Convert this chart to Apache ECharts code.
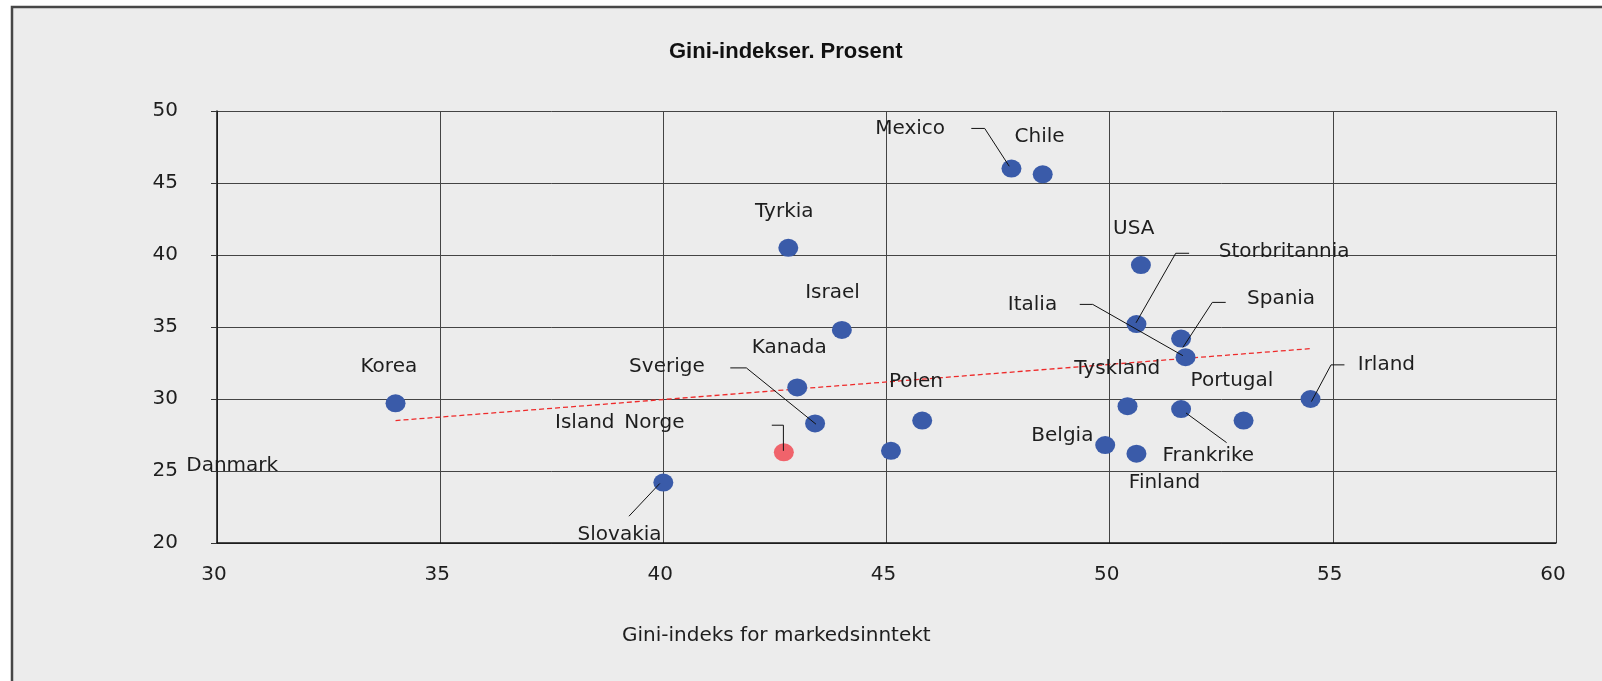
<!DOCTYPE html>
<html lang="no">
<head>
<meta charset="UTF-8" />
<title>Gini-indekser</title>
<script src="https://cdn.jsdelivr.net/npm/echarts@6/dist/echarts.min.js"></script>
<style>
  html, body { margin: 0; padding: 0; background: #fff; }
  #main { width: 1602px; height: 681px; }
</style>
</head>
<body>
<div id="main"></div>
<script>
// Gini for markedsinntekt (x) og disponibel inntekt (y)
const countries = ['Korea', 'Slovakia', 'Tyrkia', 'Kanada', 'Sverige', 'Israel', 'Island', 'Polen',
  'Mexico', 'Chile', 'Belgia', 'Tyskland', 'Storbritannia', 'Finland', 'USA', 'Spania',
  'Frankrike', 'Italia', 'Portugal', 'Irland'];
const marketGini = [34.0, 40.0, 42.8, 43.0, 43.4, 44.0, 45.1, 45.8,
  47.8, 48.5, 49.9, 50.4, 50.6, 50.6, 50.7, 51.6,
  51.6, 51.7, 53.0, 54.5];
const dispGini = [29.7, 24.2, 40.5, 30.8, 28.3, 34.8, 26.4, 28.5,
  46.0, 45.6, 26.8, 29.5, 35.2, 26.2, 39.3, 34.2,
  29.3, 32.9, 28.5, 30.0];

// Norge markert i rødt
const norgeMarket = 42.7;
const norgeDisp = 26.3;

// trendlinje (endepunkter)
const trendX = [34.0, 54.5];
const trendY = [28.5, 33.5];

// etiketter, slik de står i figuren (x, y i aksens enheter)
const labelNames = ['Mexico', 'Chile', 'Tyrkia', 'Israel', 'Kanada', 'Sverige', 'Korea', 'Island', 'Norge',
  'Slovakia', 'Danmark', 'Polen', 'USA', 'Storbritannia', 'Italia', 'Spania', 'Tyskland', 'Portugal',
  'Irland', 'Belgia', 'Frankrike', 'Finland'];
const labelX = [45.53, 48.43, 42.71, 43.79, 42.82, 40.08, 33.85, 38.24, 39.80,
  39.02, 30.34, 45.66, 50.54, 53.91, 48.27, 53.84, 50.17, 52.74,
  56.20, 48.94, 52.21, 51.23];
const labelY = [48.79, 48.22, 43.03, 37.35, 33.58, 32.23, 32.23, 28.32, 28.32,
  20.58, 25.34, 31.17, 41.83, 40.19, 36.57, 36.99, 32.09, 31.24,
  32.37, 27.47, 26.05, 24.20];

// tilknytningslinjer fra etikett til punkt
const leaders = [
  [[46.90, 48.79], [47.20, 48.79], [47.75, 46.16]],
  [[41.50, 32.16], [41.86, 32.16], [43.42, 28.25]],
  [[42.43, 28.18], [42.69, 28.18], [42.69, 26.40]],
  [[39.23, 21.86], [39.92, 24.13]],
  [[51.78, 40.12], [51.48, 40.12], [50.59, 35.29]],
  [[49.33, 36.57], [49.62, 36.57], [51.64, 33.01]],
  [[52.60, 36.71], [52.30, 36.71], [51.64, 33.58]],
  [[55.26, 32.37], [54.96, 32.37], [54.52, 29.82]],
  [[51.71, 29.03], [52.62, 26.97]]
];

const FONT = '"DejaVu Sans", Verdana, sans-serif';
const TXT = '#1e1e1e';

var chart = echarts.init(document.getElementById('main'));

var series = [];

series.push({
  type: 'line',
  data: trendX.map((x, i) => [x, trendY[i]]),
  showSymbol: false,
  lineStyle: { color: '#ee2a2a', width: 1.3, type: [5, 3] },
  z: 3
});

leaders.forEach(function (pts) {
  series.push({
    type: 'line',
    data: pts,
    showSymbol: false,
    lineStyle: { color: '#111', width: 1 },
    z: 5
  });
});

series.push({
  type: 'scatter',
  data: countries.map((c, i) => ({ name: c, value: [marketGini[i], dispGini[i]] })),
  symbolSize: [20, 18],
  itemStyle: { color: '#3a5ba9', opacity: 1 },
  z: 4
});

series.push({
  type: 'scatter',
  data: [{ name: 'Norge', value: [norgeMarket, norgeDisp] }],
  symbolSize: [20, 18],
  itemStyle: { color: '#f0636b', opacity: 1 },
  z: 4
});

series.push({
  type: 'scatter',
  data: labelNames.map((n, i) => ({ name: n, value: [labelX[i], labelY[i]] })),
  symbolSize: 1,
  clip: false,
  itemStyle: { color: 'transparent', opacity: 1 },
  label: {
    show: true,
    position: 'inside',
    formatter: '{b}',
    color: TXT,
    opacity: 1,
    textBorderWidth: 0,
    fontFamily: FONT,
    fontSize: 20
  },
  z: 6
});

var option = {
  animation: false,
  backgroundColor: '#ffffff',
  graphic: [{
    type: 'rect',
    shape: { x: 12, y: 7, width: 1640, height: 720 },
    style: { fill: '#ececec', stroke: '#474747', lineWidth: 2.5 },
    z: -10
  }],
  title: [{
    text: 'Gini-indekser. Prosent',
    left: 669,
    top: 41,
    padding: 0,
    textStyle: { fontFamily: 'Liberation Sans, Arial, sans-serif', fontWeight: 'bold', fontSize: 22, color: '#111' }
  }, {
    text: 'Gini-indeks for markedsinntekt',
    left: 622,
    top: 626,
    padding: 0,
    textStyle: { fontFamily: FONT, fontWeight: 'normal', fontSize: 20, color: TXT }
  }],
  grid: { left: 217, right: 46, top: 111, bottom: 138 },
  xAxis: {
    type: 'value',
    min: 30, max: 60, interval: 5,
    axisLine: { show: true, lineStyle: { color: '#111', width: 1.5 } },
    axisTick: { show: false },
    axisLabel: { color: TXT, fontFamily: FONT, fontSize: 20, margin: 22, padding: [0, 6, 0, 0] },
    splitLine: { show: true, lineStyle: { color: '#444', width: 1 } }
  },
  yAxis: {
    type: 'value',
    min: 20, max: 50, interval: 5,
    axisLine: { show: true, onZero: false, lineStyle: { color: '#111', width: 1.5 } },
    axisTick: { show: true, length: 6, lineStyle: { color: '#333' } },
    axisLabel: { color: TXT, fontFamily: FONT, fontSize: 20, margin: 39 },
    splitLine: { show: true, lineStyle: { color: '#444', width: 1 } }
  },
  series: series
};

chart.setOption(option);
</script>
</body>
</html>
